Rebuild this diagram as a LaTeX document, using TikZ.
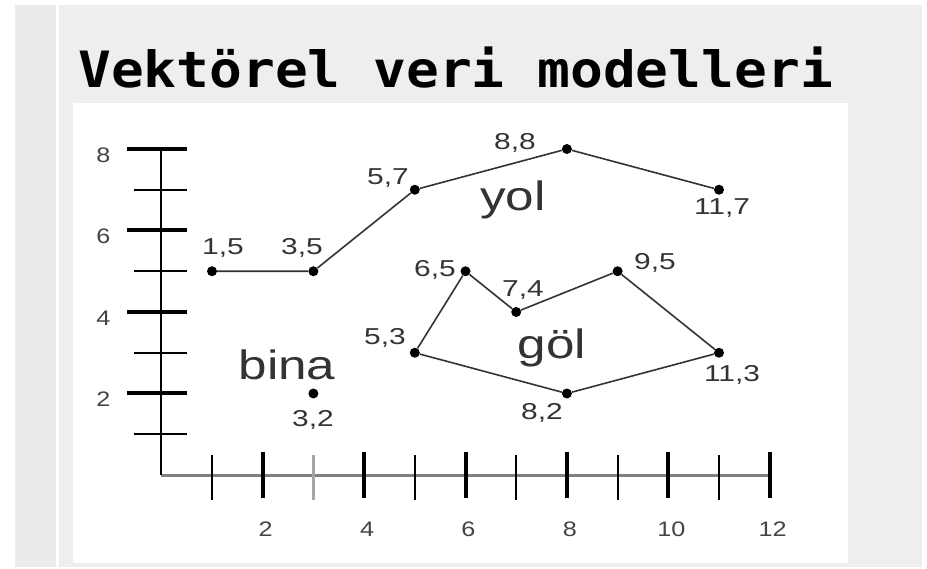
\documentclass[tikz,border=0pt]{standalone}
\usepackage{fontspec}
\setmainfont{Liberation Sans}
\newfontfamily\titlefont{DejaVu Sans Mono}
\definecolor{bggray}{HTML}{EEEEEE}
\definecolor{bgdark}{HTML}{EBEBEB}
\definecolor{labgray}{HTML}{333333}
\definecolor{tickgray}{HTML}{444444}
\definecolor{axisgray}{HTML}{808080}
\begin{document}
\begin{tikzpicture}[x=1pt,y=-1pt,
  dot/.style={circle,fill=black,inner sep=0pt,minimum size=10pt},
  ptlabel/.style={font=\fontsize{23}{23}\selectfont,text=labgray,xscale=1.3,inner sep=0pt},
  biglabel/.style={font=\fontsize{41}{41}\selectfont,text=labgray,xscale=1.25,inner sep=0pt},
  ticklabel/.style={font=\fontsize{21}{21}\selectfont,text=tickgray,xscale=1.2,inner sep=0pt},
  seg/.style={draw=black!80,line width=1.6pt},
  majtick/.style={line width=4pt,black},
  mintick/.style={line width=2pt,black}]
% background
\fill[white] (0,0) rectangle (927,569);
\useasboundingbox (0,0) rectangle (927,569);
\fill[bggray] (15,5) rectangle (922,567);
\fill[bgdark] (15,5) rectangle (56,567);
\fill[white] (56,5) rectangle (59,567);
\fill[white] (73,103) rectangle (848,563);
% title
\node[anchor=base west,inner sep=0pt,xscale=1.09] (title) at (78,88)
  {\titlefont\fontsize{50}{50}\selectfont\bfseries Vektörel veri modelleri};
\begin{scope}[shift={(161.3pt,-475pt)},x=50.7pt,y=40.75pt]
  % axes
  \coordinate (o) at (0,0);
  \coordinate (ytop) at (0,8);
  \coordinate (xend) at (12,0);
  \draw[axisgray,line width=3pt] (o) -- (xend);
  \draw[black,line width=2pt] (o) -- (ytop);
  % y ticks
  \foreach \k in {2,4,6,8}{
    \draw[majtick] ([xshift=-34pt]0,\k) -- ([xshift=26pt]0,\k);
    \node[ticklabel] (yl\k) at ([xshift=-58pt,yshift=-6pt]0,\k) {\k};
  }
  \foreach \k in {1,3,5,7}{
    \draw[mintick] ([xshift=-27pt]0,\k) -- ([xshift=26pt]0,\k);
  }
  % x ticks
  \foreach \k in {2,4,6,8,10,12}{
    \draw[majtick] ([yshift=23pt]\k,0) -- ([yshift=-23pt]\k,0);
    \node[ticklabel] (xl\k) at ([xshift=3pt,yshift=-54pt]\k,0) {\k};
  }
  \foreach \k in {1,5,7,9,11}{
    \draw[mintick] ([yshift=20pt]\k,0) -- ([yshift=-25pt]\k,0);
  }
  \draw[mintick,black!35,line width=3pt] ([yshift=20pt]3,0) -- ([yshift=-25pt]3,0);
  % points
  \node[dot] (a15) at (1,5) {};
  \node[dot] (a35) at (3,5) {};
  \node[dot] (a57) at (5,7) {};
  \node[dot] (a88) at (8,8) {};
  \node[dot] (a117) at (11,7) {};
  \node[dot] (b53) at (5,3) {};
  \node[dot] (b65) at (6,5) {};
  \node[dot] (b74) at (7,4) {};
  \node[dot] (b95) at (9,5) {};
  \node[dot] (b113) at (11,3) {};
  \node[dot] (b82) at (8,2) {};
  \node[dot] (c32) at (3,2) {};
  % lines
  \draw[seg] (a15) -- (a35) -- (a57) -- (a88) -- (a117);
  \draw[seg] (b53) -- (b65) -- (b74) -- (b95) -- (b113) -- (b82) -- (b53);
\end{scope}
% labels
\node[ptlabel] (l15) at (223,248) {1,5};
\node[ptlabel] (l35) at (302,248) {3,5};
\node[ptlabel] (l57) at (388,178) {5,7};
\node[ptlabel] (l88) at (515,143) {8,8};
\node[ptlabel] (l117) at (722,208) {11,7};
\node[ptlabel] (l65) at (435,270) {6,5};
\node[ptlabel] (l74) at (523,290) {7,4};
\node[ptlabel] (l95) at (655,263) {9,5};
\node[ptlabel] (l53) at (385,338) {5,3};
\node[ptlabel] (l113) at (732,375) {11,3};
\node[ptlabel] (l82) at (542,413) {8,2};
\node[ptlabel] (l32) at (313,420) {3,2};
\node[biglabel] (yol) at (513,200) {yol};
\node[biglabel] (gol) at (552,348) {göl};
\node[biglabel] (bina) at (287,365) {bina};
\end{tikzpicture}
\end{document}
